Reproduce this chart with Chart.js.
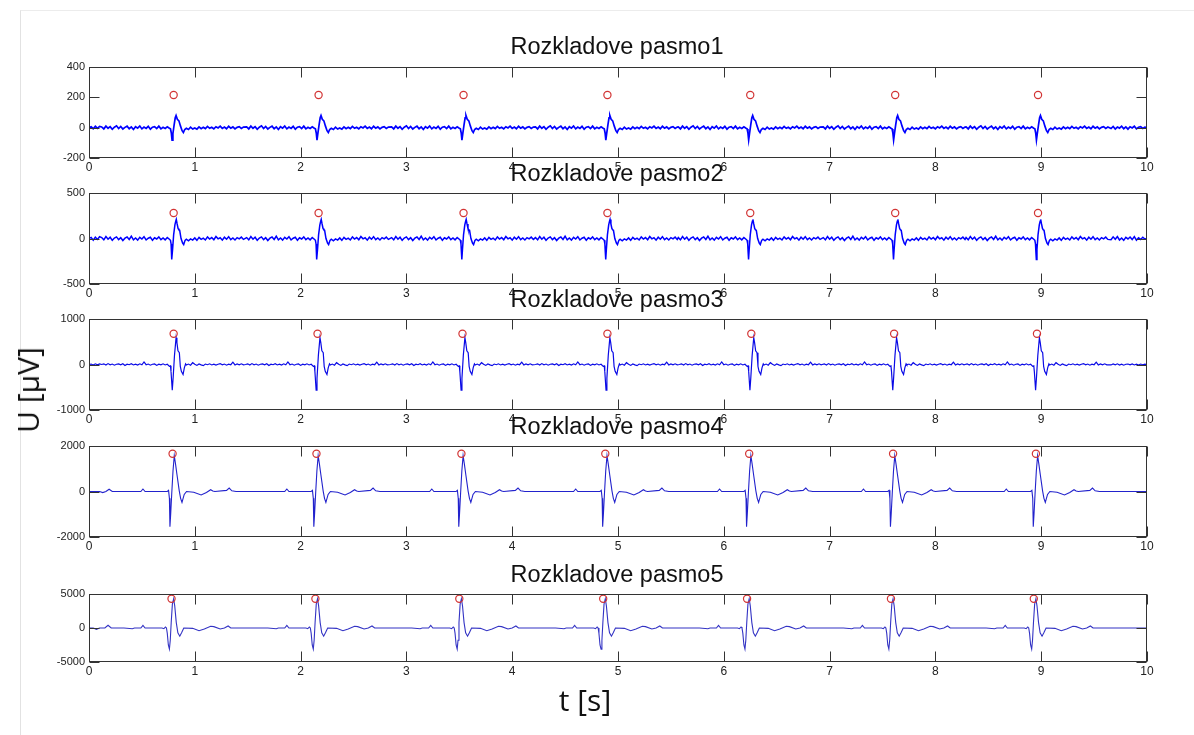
<!DOCTYPE html>
<html>
<head>
<meta charset="utf-8">
<script src="https://cdn.jsdelivr.net/npm/chart.js@4.4.1/dist/chart.umd.min.js"></script>
<style>
  html,body{margin:0;padding:0;background:#fff;}
  #stage{position:relative;width:1194px;height:735px;overflow:hidden;background:#fff;}
  #frameBox{position:absolute;left:20px;top:10px;width:1174px;height:725px;border-left:1px solid #e2e2e2;border-top:1px solid #ececec;box-sizing:border-box;}
  canvas{position:absolute;left:0;}
  .ttl{position:absolute;left:417px;width:400px;text-align:center;font-family:"Liberation Sans",Arial,sans-serif;font-size:23.5px;line-height:23.5px;color:#111;white-space:nowrap;z-index:5;}
  .axl{position:absolute;font-family:"Open Sans","Noto Sans",sans-serif;font-size:30px;line-height:30px;color:#111;white-space:nowrap;z-index:5;}
</style>
</head>
<body>
<div id="stage">
  <div id="frameBox"></div>
</div>
<script>
// ---------------- DATA ----------------
const bandTitles = ['Rozkladove pasmo1','Rozkladove pasmo2','Rozkladove pasmo3','Rozkladove pasmo4','Rozkladove pasmo5'];
const xTickValues = [0,1,2,3,4,5,6,7,8,9,10];
const yMin = [-200, -500, -1000, -2000, -5000];
const yMax = [400, 500, 1000, 2000, 5000];
const yStep = [200, 500, 1000, 2000, 5000];

// detected R-peak times (red circles) per band, seconds
const peaks1 = [0.80, 2.17, 3.54, 4.90, 6.25, 7.62, 8.97];
const peaks2 = [0.80, 2.17, 3.54, 4.90, 6.25, 7.62, 8.97];
const peaks3 = [0.80, 2.16, 3.53, 4.90, 6.26, 7.61, 8.96];
const peaks4 = [0.79, 2.15, 3.52, 4.88, 6.24, 7.60, 8.95];
const peaks5 = [0.78, 2.14, 3.50, 4.86, 6.22, 7.58, 8.93];
// level at which the circles are drawn, µV
const markerLevel = [215, 280, 675, 1660, 4300];

// sample offsets (s, relative to circle time) of the noisy baseline around each beat (bands 1-3)
const preOff = [-0.68,-0.66,-0.64,-0.62,-0.60,-0.58,-0.56,-0.54,-0.52,-0.50,-0.48,-0.46,-0.44,-0.42,-0.40,-0.38,-0.36,-0.34,-0.32,-0.30,-0.28,-0.26,-0.24,-0.22,-0.20,-0.18,-0.16,-0.14,-0.12,-0.10,-0.08,-0.06,-0.04];
const postOff = [0.12,0.14,0.16,0.18,0.20,0.22,0.24,0.26,0.28,0.30,0.32,0.34,0.36,0.38,0.40,0.42,0.44,0.46,0.48,0.50,0.52,0.54,0.56,0.58,0.60,0.62,0.64,0.66];
// absolute times of baseline samples at the start and end of the record (bands 1-3)
const edgeT = [0.02,0.04,0.06,0.08,0.10,9.66,9.68,9.70,9.72,9.74,9.76,9.78,9.80,9.82,9.84,9.86,9.88,9.90,9.92,9.94,9.96,9.98];

// band 1
const pre1  = [5,-8,10,-4,7,-11,3,12,-6,8,-9,2,10,-7,5,-12,6,-3,11,-8,4,-5,9,-10,3,7,-6,10,-8,2,-5,6,-4];
const qOff1 = [-0.03,-0.022,-0.015,-0.007,0.005,0.015,0.023,0.035,0.05,0.065,0.08,0.092,0.105];
const qVal1 = [-8,-35,-82,-40,20,65,80,55,45,10,-20,-32,-12];
const post1 = [-4,-12,3,-9,-2,-10,5,-7,2,-6,8,-4,3,-8,6,-2,10,-5,4,-7,9,-3,5,-8,2,7,-5,4];
const edge1 = [6,-7,9,-5,8,-6,8,-9,4,-3,10,-7,5,-10,6,-2,9,-8,3,7,-5,4];

// band 2
const pre2  = [10,-15,22,-8,14,-20,5,18,-12,9,-22,4,16,-10,25,-14,6,-18,12,-6,20,-16,3,14,-20,8,-5,18,-12,6,-15,10,-8];
const qOff2 = [-0.03,-0.024,-0.02,-0.016,-0.01,0.0,0.012,0.02,0.025,0.033,0.042,0.05,0.057,0.07,0.085,0.095,0.108];
const qVal2 = [-20,-60,-150,-230,-120,40,150,190,210,160,110,95,90,0,-50,-66,-20];
const post2 = [-8,-25,-5,-18,6,-20,12,-10,4,-16,18,-6,10,-14,22,-4,8,-18,14,-8,20,-12,6,-16,10,-4,15,-10];
const edge2 = [12,-18,15,-10,20,-14,18,-8,22,-16,6,-20,12,-5,16,-12,20,-18,8,-10,14,-6];

// band 3
const pre3  = [0,15,-10,20,-5,10,-15,5,12,-8,15,-20,8,-5,18,-10,6,-12,15,-8,55,-5,10,-15,5,12,-20,8,-6,15,-10,5,-40];
const qOff3 = [-0.03,-0.025,-0.013,-0.005,0.008,0.023,0.031,0.041,0.054,0.063,0.073,0.089,0.101,0.113];
const qVal3 = [-30,-150,-565,-300,200,590,480,300,260,-40,-150,-220,-75,15];
const post3 = [-10,10,-15,40,5,-20,12,-8,-25,10,-5,15,-10,8,-12,5,20,-8,10,-15,6,-5,50,-10,12,-6,15,-8];
const edge3 = [10,-12,15,-8,12,-10,12,-6,15,-12,8,-15,5,10,-8,14,-10,6,-12,10,-5,8];

// band 4 beat waveform: offset (s) and value (µV)
const off4 = [-0.55,-0.30,-0.28,-0.26,-0.05,-0.038,-0.03,-0.025,-0.018,-0.008,0.004,0.016,0.028,0.041,0.063,0.076,0.089,0.11,0.132,0.2,0.27,0.32,0.36,0.38,0.40,0.51,0.535,0.56,0.60];
const val4 = [0,0,110,0,0,50,-300,-1550,-1000,-100,900,1570,1200,760,30,-300,-480,-130,0,-30,-150,-40,80,20,0,50,150,30,0];

// band 5 beat waveform
const off5 = [-0.45,-0.37,-0.35,-0.29,-0.27,-0.25,-0.09,-0.072,-0.057,-0.048,-0.04,-0.03,-0.02,-0.012,-0.003,0.008,0.02,0.03,0.045,0.06,0.078,0.095,0.116,0.2,0.26,0.31,0.37,0.40,0.46,0.50,0.535,0.56];
const val5 = [0,-100,0,0,380,0,0,-100,150,0,-800,-2500,-3100,-1800,800,3500,4300,3300,800,-700,-1200,-700,0,-50,-400,-150,250,200,-150,0,300,0];

// small features at the very start of the record (absolute time, value)
const leadT4 = [0.10, 0.13, 0.16, 0.19, 0.22];
const leadV4 = [0, -50, 0, 100, 0];
const leadT5 = [0.04, 0.07, 0.10, 0.15, 0.18, 0.21];
const leadV5 = [0, -200, 0, 0, 400, 0];

// ---------------- BUILD ----------------
function buildSeries(peaks, offs, vals, leadT, leadV){
  const pts = [{x:0, y:0}];
  (leadT||[]).forEach((t,i)=>pts.push({x:t, y:leadV[i]}));
  peaks.forEach(p => offs.forEach((o,i)=>pts.push({x:+(p+o).toFixed(4), y:vals[i]})));
  pts.push({x:10, y:0});
  pts.sort((a,b)=>a.x-b.x);
  return pts;
}
const series = [
  buildSeries(peaks1, preOff.concat(qOff1, postOff), pre1.concat(qVal1, post1), edgeT, edge1),
  buildSeries(peaks2, preOff.concat(qOff2, postOff), pre2.concat(qVal2, post2), edgeT, edge2),
  buildSeries(peaks3, preOff.concat(qOff3, postOff), pre3.concat(qVal3, post3), edgeT, edge3),
  buildSeries(peaks4, off4, val4, leadT4, leadV4),
  buildSeries(peaks5, off5, val5, leadT5, leadV5)
];
const peakSets = [peaks1, peaks2, peaks3, peaks4, peaks5];

// layout of the five axes boxes (pixels)
const boxTop = [66.5, 193, 319, 446, 594];
const boxH = [91, 91, 91, 91, 68];
const lineW = [1.7, 1.5, 1.2, 1.1, 1.1];
const lineC = ['#0000ff','#0000ff','#0a0ae6','#2222cc','#3333c4'];

const PADT = 12, XAXH = 24, LEFT = 89, RIGHT = 1147, W = 1194;

const framePlugin = {
  id:'frame',
  afterDraw(chart){
    const {ctx, chartArea:a, scales} = chart;
    const x = scales.x, y = scales.y;
    const L = Math.round(a.left)+0.5, R = Math.round(a.right)-0.5, T = Math.round(a.top)+0.5, B = Math.round(a.bottom)-0.5;
    ctx.save();
    ctx.strokeStyle = '#333';
    ctx.lineWidth = 1;
    ctx.beginPath();
    x.ticks.forEach((t,i)=>{
      const px = Math.round(x.getPixelForTick(i))+0.5;
      ctx.moveTo(px, B); ctx.lineTo(px, B-10);
      ctx.moveTo(px, T); ctx.lineTo(px, T+10);
    });
    y.ticks.forEach((t,i)=>{
      const py = Math.round(y.getPixelForTick(i))+0.5;
      ctx.moveTo(L, py); ctx.lineTo(L+10, py);
      ctx.moveTo(R, py); ctx.lineTo(R-10, py);
    });
    ctx.stroke();
    ctx.strokeRect(L, T, R-L, B-T);
    ctx.restore();
  }
};

const stage = document.getElementById('stage');
const yFont = {family:'"Liberation Sans", Arial, sans-serif', size:11};
const xFont = {family:'"Liberation Sans", Arial, sans-serif', size:12};

for (let b=0; b<5; b++){
  const cv = document.createElement('canvas');
  const h = PADT + boxH[b] + XAXH;
  cv.width = W; cv.height = h;
  cv.style.top = (boxTop[b]-PADT)+'px';
  cv.style.width = W+'px'; cv.style.height = h+'px';
  stage.appendChild(cv);

  const markers = peakSets[b].map(t=>({x:t, y:markerLevel[b]}));
  new Chart(cv.getContext('2d'), {
    type:'scatter',
    data:{datasets:[
      {data:series[b], showLine:true, borderColor:lineC[b], borderWidth:lineW[b], pointRadius:0, tension:0, order:2},
      {data:markers, showLine:false, pointStyle:'circle', pointRadius:3.6, borderColor:'#d23434', backgroundColor:'rgba(0,0,0,0)', pointBorderWidth:1.2, borderWidth:1.2, order:1}
    ]},
    options:{
      responsive:false, animation:false, devicePixelRatio:1,
      layout:{padding:{top:PADT, right:W-RIGHT, left:0, bottom:0}},
      plugins:{legend:{display:false}, tooltip:{enabled:false}, title:{display:false}},
      scales:{
        x:{type:'linear', min:0, max:10,
           afterBuildTicks(s){ s.ticks = xTickValues.map(v=>({value:v})); },
           afterFit(s){ s.height = XAXH; },
           grid:{display:false, drawTicks:false}, border:{display:false},
           ticks:{autoSkip:false, maxRotation:0, padding:2, color:'#222', font:xFont, callback:v=>String(v)}},
        y:{type:'linear', min:yMin[b], max:yMax[b],
           afterFit(s){ s.width = LEFT; },
           grid:{display:false, drawTicks:false}, border:{display:false},
           ticks:{stepSize:yStep[b], padding:4, color:'#222', font:yFont, callback:v=>String(v)}}
      }
    },
    plugins:[framePlugin]
  });

  const t = document.createElement('div');
  t.className = 'ttl';
  t.textContent = bandTitles[b];
  t.style.top = (boxTop[b] - 11.5 - 20) + 'px';
  stage.appendChild(t);
}

const ylab = document.createElement('div');
ylab.className = 'axl';
ylab.textContent = 'U [µV]';
ylab.style.left = '28px'; ylab.style.top = '390px';
ylab.style.transform = 'translate(-50%,-50%) rotate(-90deg)';
stage.appendChild(ylab);

const xlab = document.createElement('div');
xlab.className = 'axl';
xlab.textContent = 't [s]';
xlab.style.left = '585px'; xlab.style.top = '700px';
xlab.style.transform = 'translate(-50%,-50%)';
stage.appendChild(xlab);
</script>
</body>
</html>
